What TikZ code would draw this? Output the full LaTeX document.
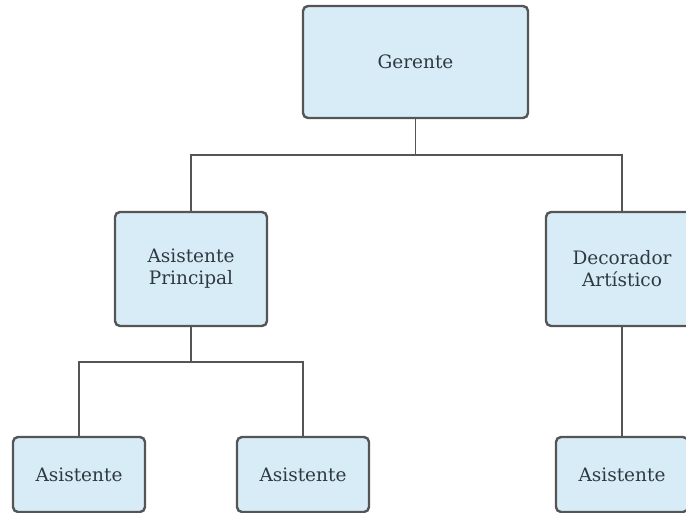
\documentclass[tikz,border=0pt]{standalone}
\usepackage{fontspec}
\setmainfont{DejaVu Serif}
\definecolor{boxfill}{HTML}{D8ECF8}
\definecolor{boxline}{HTML}{555555}
\definecolor{txt}{HTML}{2F3A40}
\begin{document}
\begin{tikzpicture}[x=1pt,y=-1pt,
  orgbox/.style={draw=boxline,fill=boxfill,line width=2.4pt,rounded corners=5pt,
    text=txt,font=\fontsize{18.5}{22}\selectfont,align=center,inner sep=0pt},
  link/.style={draw=boxline,line width=1.6pt}]
\useasboundingbox (0,0) rectangle (686,513);
\begin{scope}
\clip (0,0) rectangle (686,513);
\node[orgbox,minimum width=225pt,minimum height=112pt] (g) at (415.5,62) {Gerente};
\node[orgbox,minimum width=152pt,minimum height=114pt] (ap) at (191,269) {Asistente\\Principal};
\node[orgbox,minimum width=152pt,minimum height=114pt] (da) at (622,269) {Decorador\\Artístico};
\node[orgbox,minimum width=132pt,minimum height=75pt] (a1) at (79,474.5) {Asistente};
\node[orgbox,minimum width=132pt,minimum height=75pt] (a2) at (303,474.5) {Asistente};
\node[orgbox,minimum width=132pt,minimum height=75pt] (a3) at (622,474.5) {Asistente};
\coordinate (j1) at (415.5,155);
\coordinate (j2) at (191,362);
\draw[link] (g.south) -- (j1);
\draw[link] (ap.north) |- (j1) -| (da.north);
\draw[link] (ap.south) -- (j2);
\draw[link] (a1.north) |- (j2) -| (a2.north);
\draw[link] (da.south) -- (a3.north);
\end{scope}
\end{tikzpicture}
\end{document}
